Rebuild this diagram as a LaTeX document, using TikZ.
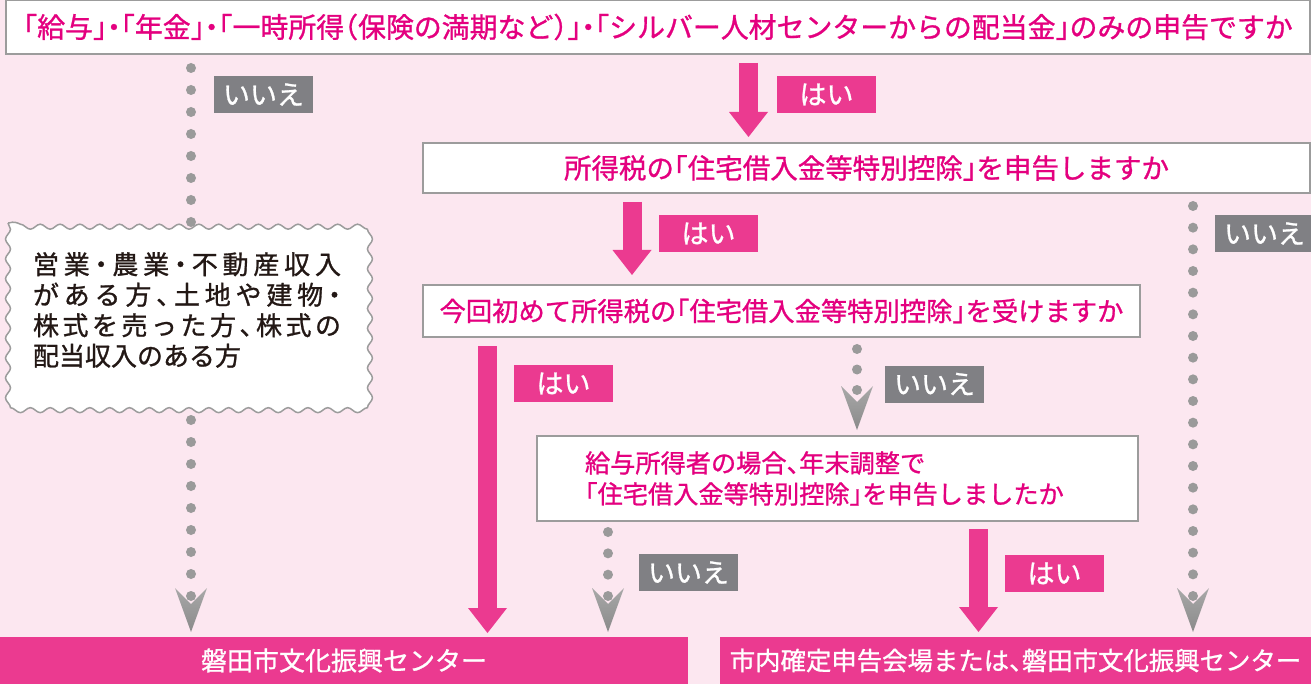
\documentclass[tikz,border=0pt]{standalone}
\usepackage{fontspec}
\setmainfont{Noto Sans CJK JP}[RawFeature=+halt, FakeBold=1]
\usetikzlibrary{decorations.pathmorphing}
\definecolor{bg}{HTML}{FCE7F0}
\definecolor{mag}{HTML}{E4007F}
\definecolor{pk}{HTML}{EB3A90}
\definecolor{bd}{HTML}{9C9C9C}
\definecolor{dotc}{HTML}{9A9A9A}
\definecolor{lbl}{HTML}{808084}
\definecolor{ink}{HTML}{231815}
\definecolor{chevtop}{HTML}{A8A8A8}
\definecolor{chevbot}{HTML}{8A8A8A}
\begin{document}
\begin{tikzpicture}[x=1pt,y=-1pt,
  qbox/.style={draw=bd, line width=2pt, fill=white, text=mag, inner sep=0pt, outer sep=0pt},
  bar/.style={fill=pk, text=white, inner sep=0pt, outer sep=0pt, minimum height=47pt},
  yes/.style={fill=pk, text=white, inner sep=0pt, minimum width=99pt, minimum height=37pt, font=\fontsize{27}{30}\selectfont},
  no/.style={fill=lbl, text=white, inner sep=0pt, minimum width=99pt, minimum height=37pt, font=\fontsize{27}{30}\selectfont},
  shaft/.style={draw=pk, line width=19pt, shorten >=24pt},
  dotline/.style={draw=dotc, line width=10pt, line cap=round, dash pattern=on 0pt off #1},
  wavy/.style={fill=white, draw=bd, line width=1.5pt, decorate, decoration={snake, segment length=19.83pt, amplitude=2.5pt}},
  chev/.pic={\shade[top color=chevtop, bottom color=chevbot] (0,0) -- (-16,-44) -- (0,-28) -- (16,-44) -- cycle;},
  pinkhead/.pic={\fill[pk] (0,0) -- (-19.5,-25) -- (19.5,-25) -- cycle;}
]
\fill[bg] (0,0) rectangle (1311,684);
\useasboundingbox (0,0) rectangle (1311,684);

% question boxes
\node[qbox, minimum width=1304pt, minimum height=54pt, font=\fontsize{27.9}{30}\selectfont] (q1) at (658,27)
  {「給与」・「年金」・「一時所得（保険の満期など）」・「シルバー人材センターからの配当金」のみの申告ですか};
\node[qbox, minimum width=887pt, minimum height=50pt, font=\fontsize{27.5}{30}\selectfont] (q2) at (866.5,168)
  {所得税の「住宅借入金等特別控除」を申告しますか};
\node[qbox, minimum width=717pt, minimum height=52pt, font=\fontsize{26.3}{30}\selectfont] (q3) at (781.5,311)
  {今回初めて所得税の「住宅借入金等特別控除」を受けますか};
\node[qbox, text width=505pt, inner xsep=48pt, minimum height=85pt, align=left, font=\fontsize{25.2}{31}\selectfont] (q4) at (837.5,478.5)
  {給与所得者の場合、年末調整で\\「住宅借入金等特別控除」を申告しましたか};

% result bars
\node[bar, minimum width=688pt, font=\fontsize{26}{30}\selectfont] (b1) at (344,660.5) {磐田市文化振興センター};
\node[bar, minimum width=591pt, font=\fontsize{25.4}{30}\selectfont] (b2) at (1015.5,660.5) {市内確定申告会場または、磐田市文化振興センター};

% columns
\coordinate (cL) at (191,0);
\coordinate (cR) at (1193,0);
\coordinate (cM) at (857,0);
\coordinate (cML) at (608,0);
\coordinate (a1) at (748.5,0);
\coordinate (a2) at (632,0);
\coordinate (a3) at (487.5,0);
\coordinate (a4) at (978.5,0);

% yes arrows
\draw[shaft] ([yshift=-9pt]q1.south -| a1) -- ([yshift=6pt]q2.north -| a1) coordinate (t1);
\pic at (t1) {pinkhead};
\draw[shaft] ([yshift=-9pt]q2.south -| a2) -- ([yshift=10pt]q3.north -| a2) coordinate (t2);
\pic at (t2) {pinkhead};
\draw[shaft] ([yshift=-9pt]q3.south -| a3) -- ([yshift=4pt]b1.north -| a3) coordinate (t3);
\pic at (t3) {pinkhead};
\draw[shaft] ([yshift=-8pt]q4.south -| a4) -- ([yshift=5pt]b2.north -| a4) coordinate (t4);
\pic at (t4) {pinkhead};

% no arrows (dotted)
\pic at ([yshift=5pt]b1.north -| cL) {chev};
\draw[dotline=22pt] ([yshift=-14pt]q1.south -| cL) -- ([yshift=40.5pt]b1.north -| cL);
\pic at ([yshift=5pt]b2.north -| cR) {chev};
\draw[dotline=21.667pt] ([yshift=-13pt]q2.south -| cR) -- ([yshift=40.5pt]b2.north -| cR);
\pic at ([yshift=6pt]q4.north -| cM) {chev};
\draw[dotline=20.5pt] ([yshift=-12pt]q3.south -| cM) -- ([yshift=45.5pt]q4.north -| cM);
\pic at ([yshift=5pt]b1.north -| cML) {chev};
\draw[dotline=21.333pt] ([yshift=-11pt]q4.south -| cML) -- ([yshift=40.5pt]b1.north -| cML);

% wavy note box
\path[wavy] (8,223) rectangle (365,403);
\node[text=ink, align=left, inner sep=0pt, font=\fontsize{26}{30.5}\selectfont] (wb) at (187,310)
  {\makebox[308pt][s]{営\hfill 業\hfill ・\hfill 農\hfill 業\hfill ・\hfill 不\hfill 動\hfill 産\hfill 収\hfill 入}\\
   \makebox[308pt][s]{が\hfill あ\hfill る\hfill 方\hfill 、\hfill 土\hfill 地\hfill や\hfill 建\hfill 物\hfill ・}\\
   \makebox[308pt][s]{株\hfill 式\hfill を\hfill 売\hfill っ\hfill た\hfill 方\hfill 、\hfill 株\hfill 式\hfill の}\\
   配当収入のある方};

% labels
\node[no] (n1) at (263.5,94.5) {いいえ};
\node[no] (n2) at (1264.5,233.5) {いいえ};
\node[no] (n3) at (934.5,384) {いいえ};
\node[no] (n4) at (688.5,572.5) {いいえ};
\node[yes] (y1) at (826.5,94.5) {はい};
\node[yes] (y2) at (708.5,233.5) {はい};
\node[yes] (y3) at (563.5,383.5) {はい};
\node[yes] (y4) at (1054.5,573.5) {はい};
\end{tikzpicture}
\end{document}
